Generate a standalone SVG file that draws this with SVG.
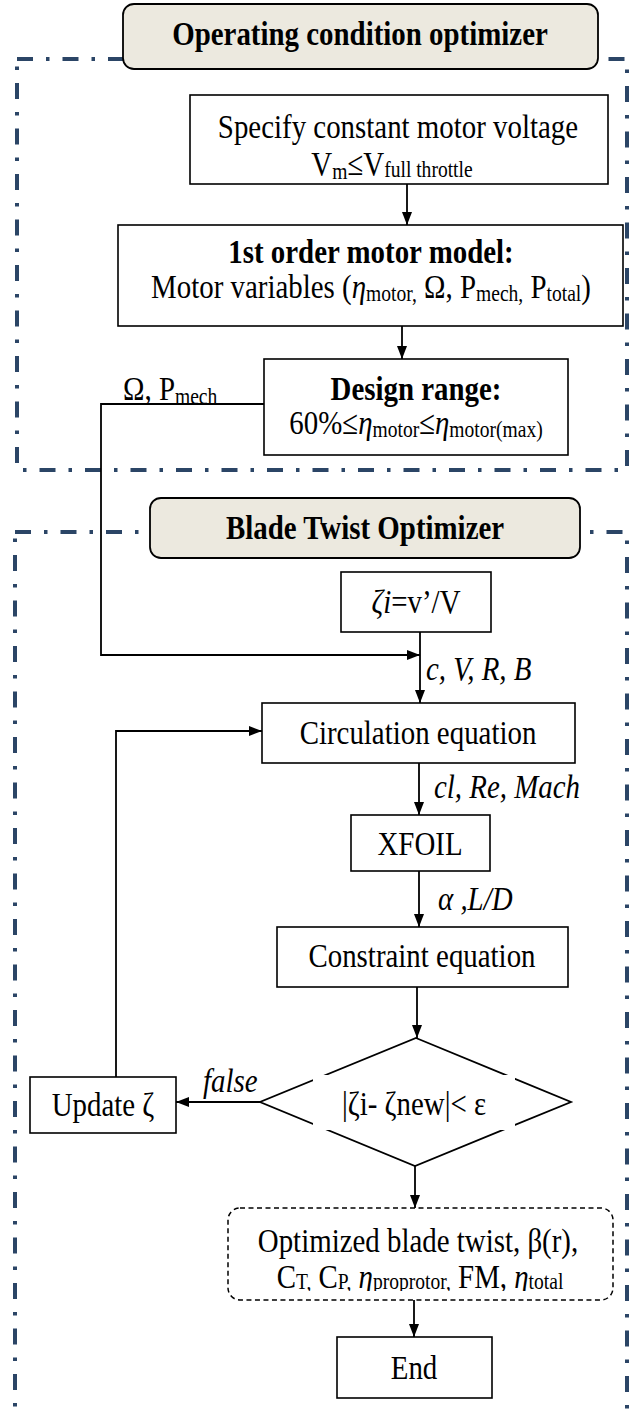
<svg xmlns="http://www.w3.org/2000/svg" width="630" height="1411" viewBox="0 0 630 1411">
<defs>
<style>
.frame{fill:none;stroke:#2B4566;stroke-width:4;stroke-dasharray:16 13 3.5 13;}
.box{fill:#fff;stroke:#000;stroke-width:1.6;}
.ttl{fill:#ECE9DF;stroke:#000;stroke-width:1.8;}
.dbox{fill:#fff;stroke:#000;stroke-width:1.5;stroke-dasharray:5 3.5;}
.conn{fill:none;stroke:#000;stroke-width:1.8;}
.t{font-family:"Liberation Serif","Times New Roman",serif;font-size:34px;fill:#000;text-anchor:middle;}
.b{font-weight:bold;}
.i{font-style:italic;}
.lbl{font-family:"Liberation Serif","Times New Roman",serif;font-size:34px;fill:#000;font-style:italic;text-anchor:start;}
.s{font-size:23px;}
</style>
<marker id="ah" viewBox="0 0 13 10" refX="13" refY="5" markerWidth="13" markerHeight="10" markerUnits="userSpaceOnUse" orient="auto">
<path d="M0,0 L13,5 L0,10 z" fill="#000"/>
</marker>
<clipPath id="resclip"><rect x="228" y="1200" width="385" height="91"/></clipPath>
</defs>

<g id="frames">
<rect class="frame" x="17" y="59" width="610" height="411"/>
<rect class="frame" x="15" y="532" width="612" height="1000"/>
</g>

<g id="connectors">
<line class="conn" x1="407" y1="184" x2="407" y2="225" marker-end="url(#ah)"/>
<line class="conn" x1="402" y1="326" x2="402" y2="359" marker-end="url(#ah)"/>
<polyline class="conn" points="264,404 101,404 101,655 420,655" marker-end="url(#ah)"/>
<line class="conn" x1="420" y1="632" x2="420" y2="703" marker-end="url(#ah)"/>
<line class="conn" x1="419" y1="763" x2="419" y2="815" marker-end="url(#ah)"/>
<line class="conn" x1="419" y1="871" x2="419" y2="927" marker-end="url(#ah)"/>
<line class="conn" x1="417" y1="987" x2="417" y2="1038" marker-end="url(#ah)"/>
<line class="conn" x1="260" y1="1102" x2="176" y2="1102" marker-end="url(#ah)"/>
<polyline class="conn" points="116,1077 116,731 262,731" marker-end="url(#ah)"/>
<line class="conn" x1="415" y1="1166" x2="415" y2="1208" marker-end="url(#ah)"/>
<line class="conn" x1="414" y1="1300" x2="414" y2="1337" marker-end="url(#ah)"/>
<text class="lbl" transform="translate(426,680) scale(.85,1)">c, V, R, B</text>
<text class="lbl" transform="translate(434,798) scale(.85,1)">cl, Re, Mach</text>
<text class="lbl" transform="translate(438,910) scale(.85,1)">α ,L/D</text>
<text class="lbl" transform="translate(203,1092) scale(.85,1)">false</text>
<text class="t" transform="translate(123,400) scale(.85,1)" style="text-anchor:start">Ω, P<tspan class="s" dy="4">mech</tspan></text>
</g>

<g id="title-operating">
<rect class="ttl" x="123" y="4" width="475" height="65" rx="11"/>
<text class="t b" transform="translate(360,45) scale(.85,1)">Operating condition optimizer</text>
</g>

<g id="specify-voltage">
<rect class="box" x="190" y="95" width="418" height="89"/>
<text class="t" transform="translate(398,138) scale(.85,1)">Specify constant motor voltage</text>
<text class="t" transform="translate(392,175) scale(.85,1)">V<tspan class="s" dy="4">m</tspan><tspan dy="-4">≤V</tspan><tspan class="s" dy="2">full throttle</tspan></text>
</g>

<g id="motor-model">
<rect class="box" x="118" y="225" width="505" height="101"/>
<text class="t b" transform="translate(371,263) scale(.85,1)">1st order motor model:</text>
<text class="t" transform="translate(371,298) scale(.85,1)">Motor variables (<tspan class="i">η</tspan><tspan class="s" dy="3">motor,</tspan><tspan dy="-3"> Ω, P</tspan><tspan class="s" dy="3">mech,</tspan><tspan dy="-3"> P</tspan><tspan class="s" dy="3">total</tspan><tspan dy="-3">)</tspan></text>
</g>

<g id="design-range">
<rect class="box" x="264" y="359" width="304" height="96"/>
<text class="t b" transform="translate(416,400) scale(.85,1)">Design range:</text>
<text class="t" transform="translate(416,434) scale(.85,1)">60%≤<tspan class="i">η</tspan><tspan class="s" dy="3">motor</tspan><tspan dy="-3">≤</tspan><tspan class="i">η</tspan><tspan class="s" dy="3">motor(max)</tspan></text>
</g>

<g id="title-blade">
<rect class="ttl" x="150" y="498" width="430" height="60" rx="11"/>
<text class="t b" transform="translate(365,539) scale(.85,1)">Blade Twist Optimizer</text>
</g>

<g id="zeta-init">
<rect class="box" x="341" y="572" width="150" height="60"/>
<text class="t" transform="translate(416,613) scale(.85,1)"><tspan class="i">ζi</tspan>=v’/V</text>
</g>

<g id="circulation">
<rect class="box" x="262" y="703" width="313" height="60"/>
<text class="t" transform="translate(418,744) scale(.85,1)">Circulation equation</text>
</g>

<g id="xfoil">
<rect class="box" x="351" y="815" width="139" height="56"/>
<text class="t" transform="translate(420,855) scale(.85,1)">XFOIL</text>
</g>

<g id="constraint">
<rect class="box" x="277" y="927" width="291" height="60"/>
<text class="t" transform="translate(422,967) scale(.85,1)">Constraint equation</text>
</g>

<g id="convergence">
<polygon points="416,1038 571,1102 415,1166 260,1102" fill="#fff" stroke="#000" stroke-width="1.8"/>
<rect x="313" y="1075" width="202" height="55" fill="#fff"/>
<text class="t" transform="translate(414,1115) scale(.85,1)">|ζi- ζnew|&lt; ε</text>
</g>

<g id="update-zeta">
<rect class="box" x="30" y="1077" width="146" height="56"/>
<text class="t" transform="translate(103,1116) scale(.85,1)">Update ζ</text>
</g>

<g id="result">
<rect class="dbox" x="228" y="1208" width="385" height="92" rx="12"/>
<text class="t" transform="translate(418,1252) scale(.85,1)">Optimized blade twist, β(r),</text>
<g clip-path="url(#resclip)">
<text class="t" transform="translate(420,1288) scale(.85,1)">C<tspan class="s" dy="1">T,</tspan><tspan dy="-1"> C</tspan><tspan class="s" dy="1">P,</tspan><tspan dy="-1"> </tspan><tspan class="i">η</tspan><tspan class="s" dy="1">proprotor,</tspan><tspan dy="-1"> FM, </tspan><tspan class="i">η</tspan><tspan class="s" dy="1">total</tspan></text>
</g>
</g>

<g id="end">
<rect class="box" x="337" y="1337" width="155" height="61"/>
<text class="t" transform="translate(414,1379) scale(.85,1)">End</text>
</g>
</svg>
